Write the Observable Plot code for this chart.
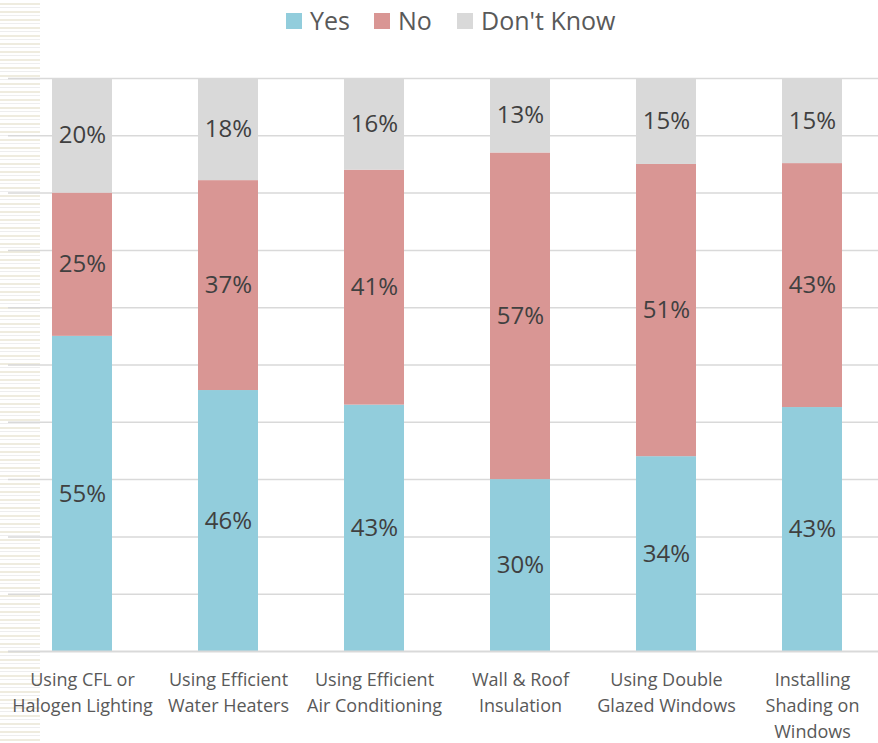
<!DOCTYPE html>
<html>
<head>
<meta charset="utf-8">
<script src="https://cdn.jsdelivr.net/npm/d3@7"></script>
<script src="https://cdn.jsdelivr.net/npm/@observablehq/plot@0.6"></script>
<style>
  body { margin: 0; background: white; font-family: "Open Sans", sans-serif; }
  #wrap { position: relative; width: 878px; height: 743px; overflow: hidden; }
  #stripes { position: absolute; left: 0; top: 0; width: 40px; height: 743px;
    background: repeating-linear-gradient(to bottom, transparent 0px, transparent 3px, #efecdf 3px, #efecdf 5px, transparent 5px, transparent 7px, #eeeeee 7px, #eeeeee 8px); }
  #legend { position: absolute; left: 0; top: 0; width: 878px; height: 40px; }
  .sw { position: absolute; top: 13px; width: 16px; height: 16px; }
  .lt { position: absolute; top: 3px; font-size: 25px; color: #595959; line-height: 34px; white-space: nowrap; }
  #chart { position: absolute; left: 0; top: 40px; }
</style>
</head>
<body>
<div id="wrap">
  <div id="stripes"></div>
  <div id="legend"></div>
  <div id="chart"></div>
</div>
<script>
const categories = [
  "Using CFL or\nHalogen Lighting",
  "Using Efficient\nWater Heaters",
  "Using Efficient\nAir Conditioning",
  "Wall & Roof\nInsulation",
  "Using Double\nGlazed Windows",
  "Installing\nShading on\nWindows"
];
const seriesNames = ["Yes", "No", "Don't Know"];
const yesValues = [55, 46, 43, 30, 34, 43];
const noValues = [25, 37, 41, 57, 51, 43];
const dontKnowValues = [20, 18, 16, 13, 15, 15];
const colors = ["#92cddc", "#d99694", "#d9d9d9"];
const gridTicks = [0, 10, 20, 30, 40, 50, 60, 70, 80, 90, 100];

const seriesValues = [yesValues, noValues, dontKnowValues];
const data = [];
seriesNames.forEach((s, si) => {
  categories.forEach((c, ci) => {
    data.push({category: c, series: s, value: seriesValues[si][ci]});
  });
});

// legend
const legend = document.getElementById("legend");
const legendPos = [[286, 310], [374, 398], [457, 481]];
seriesNames.forEach((s, i) => {
  const sw = document.createElement("div");
  sw.className = "sw"; sw.style.left = legendPos[i][0] + "px"; sw.style.background = colors[i];
  legend.appendChild(sw);
  const t = document.createElement("div");
  t.className = "lt"; t.style.left = legendPos[i][1] + "px"; t.textContent = s;
  legend.appendChild(t);
});

const stackOpts = {x: "category", y: "value", z: "series", order: seriesNames, offset: "normalize"};

const chart = Plot.plot({
  width: 878,
  height: 703,
  marginTop: 38,
  marginBottom: 92,
  marginLeft: 8,
  marginRight: 0,
  style: {background: "transparent", fontFamily: "Open Sans, sans-serif"},
  x: {domain: categories, range: [7.8, 886.8], paddingInner: 0.59, paddingOuter: 0.295, label: null},
  y: {domain: [0, 1], axis: null},
  color: {domain: seriesNames, range: colors},
  marks: [
    Plot.ruleY(gridTicks.slice(1), {y: d => d / 100, stroke: "#d9d9d9", strokeWidth: 1.5}),
    Plot.barY(data, Plot.stackY({...stackOpts, fill: "series"})),
    Plot.ruleY([0], {stroke: "#d9d9d9", strokeWidth: 2}),
    Plot.text(data, Plot.stackY({...stackOpts, text: d => d.value + "%", fill: "#404040", fontSize: 24})),
    Plot.axisX({tickSize: 0, tickPadding: 16, fontSize: 18, lineHeight: 1.45, fill: "#595959", label: null, textAnchor: "middle"})
  ]
});
document.getElementById("chart").appendChild(chart);
</script>
</body>
</html>
